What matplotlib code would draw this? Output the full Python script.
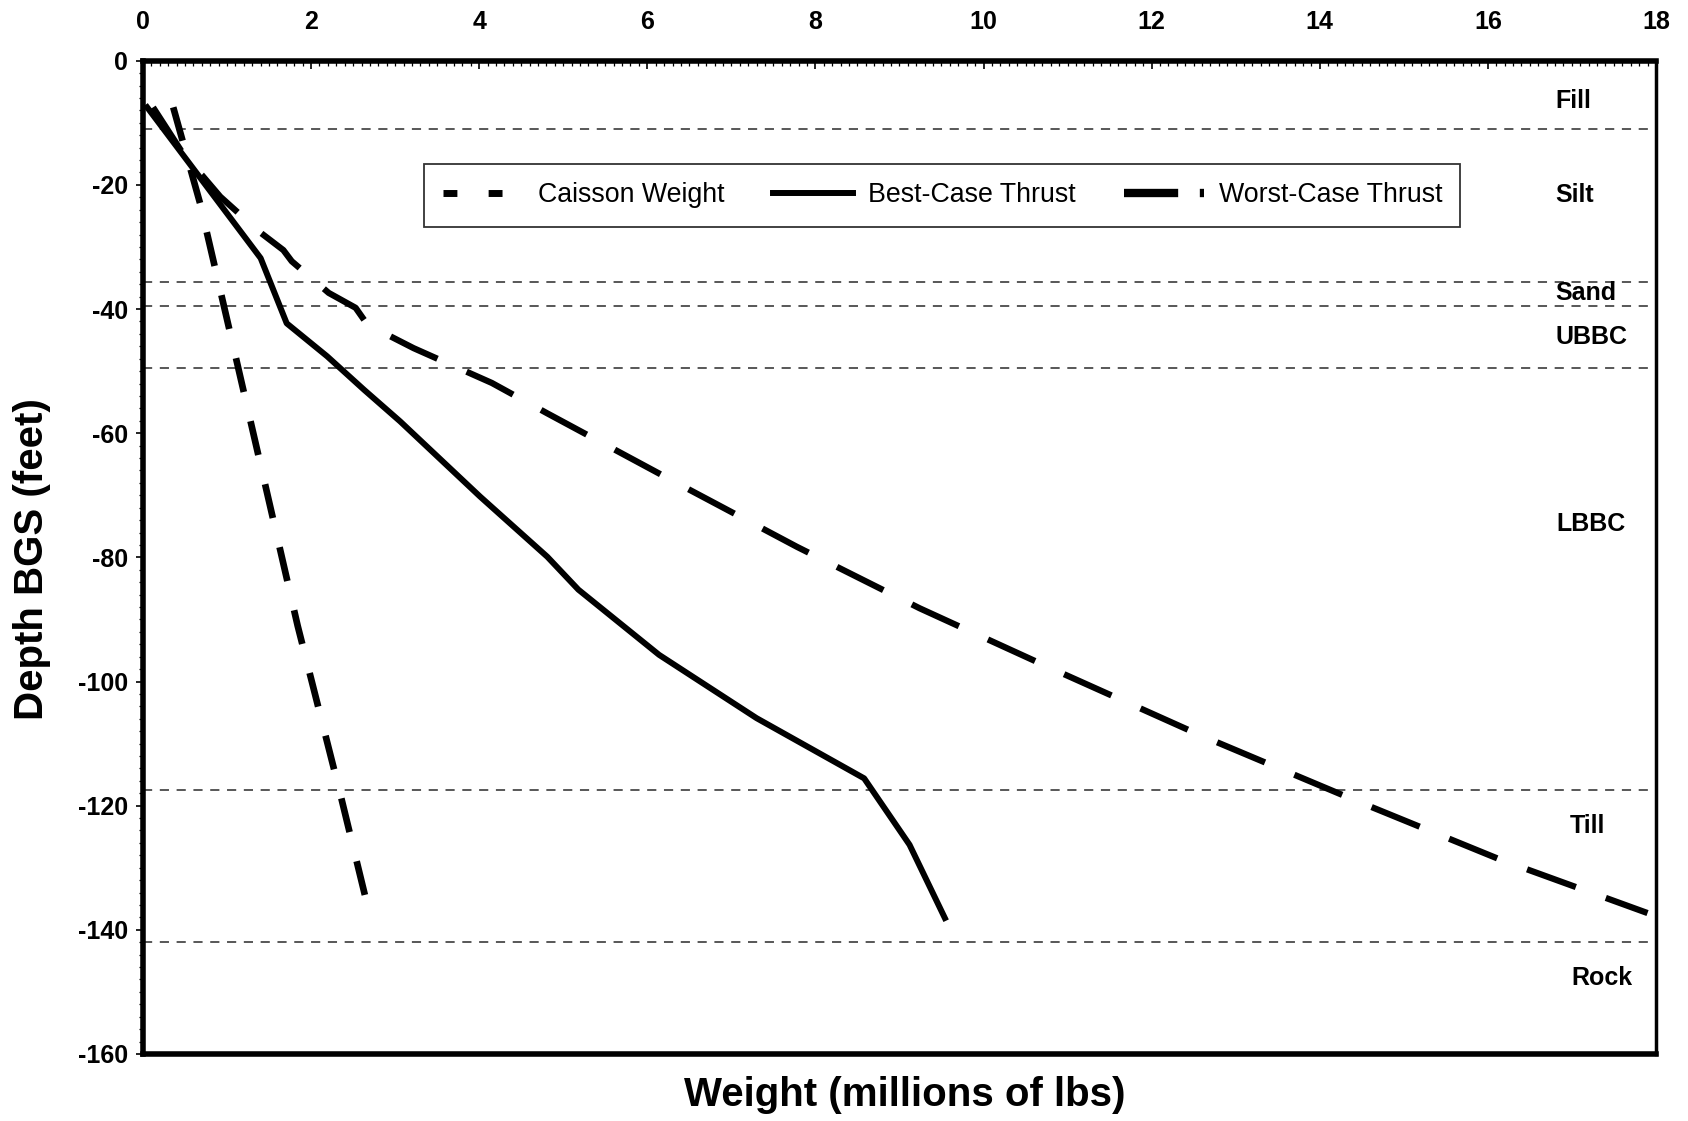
import matplotlib
matplotlib.use("Agg")
import matplotlib.pyplot as plt
from matplotlib.lines import Line2D
from matplotlib.ticker import MultipleLocator

plt.rcParams['font.family'] = ['Liberation Sans', 'DejaVu Sans']

# Caisson weight vs. depth (millions of lbs, feet below ground surface)
caisson_weight = [0.36, 0.68, 1.04, 1.50, 1.84, 2.34, 2.66]
caisson_depth = [-7.5, -23.0, -44.0, -71.0, -91.0, -117.7, -135.5]

# Best-case thrust
best_weight = [0.05, 1.40, 1.71, 2.19, 2.63, 3.06, 4.01, 4.81, 5.18, 6.14, 7.30, 8.58, 9.12, 9.54]
best_depth = [-7.5, -31.8, -42.3, -47.6, -53.0, -58.1, -70.2, -79.9, -85.2, -95.7, -105.9, -115.6, -126.3, -138.1]

# Worst-case thrust
worst_weight = [0.12, 0.55, 0.70, 0.92, 1.38, 1.67, 1.77, 2.21, 2.53, 2.67, 3.22, 4.15, 4.81,
                6.32, 7.78, 9.24, 10.84, 12.57, 14.45, 16.15, 17.90]
worst_depth = [-7.5, -16.5, -18.4, -21.9, -27.5, -30.5, -32.3, -37.4, -39.8, -42.5, -46.3, -51.9,
               -56.8, -67.8, -78.3, -88.2, -98.1, -108.6, -119.3, -128.7, -137.3]

# Soil strata: boundaries and names
layer_boundaries = [-11.0, -35.6, -39.5, -49.5, -117.5, -142.0]
layer_names = ["Fill", "Silt", "Sand", "UBBC", "LBBC", "Till", "Rock"]
layer_label_depth = [-6.5, -21.6, -37.4, -44.5, -74.7, -123.2, -147.7]
layer_label_x = [16.80, 16.80, 16.80, 16.80, 16.82, 16.98, 17.00]

x_ticks = list(range(0, 19, 2))
y_ticks = list(range(0, -161, -20))

fig = plt.figure(figsize=(16.88, 11.21), dpi=100)
ax = fig.add_axes([0.0847, 0.0598, 0.8963, 0.8860])

ax.set_xlim(0, 18)
ax.set_ylim(-160, 0)

# Strata boundary lines
for d in layer_boundaries:
    ax.axhline(d, color="#2a2a2a", lw=1.1, dashes=(6, 5), zorder=1)

for name, x, d in zip(layer_names, layer_label_x, layer_label_depth):
    ax.text(x, d, name, fontsize=18, fontweight="bold", ha="left", va="center", zorder=2)

ax.plot(caisson_weight, caisson_depth, color="black", lw=4.8, dashes=(5.2, 4.5),
        solid_capstyle="butt", dash_capstyle="butt", zorder=3)
ax.plot(best_weight, best_depth, color="black", lw=4.3, solid_joinstyle="round", zorder=3)
ax.plot(worst_weight, worst_depth, color="black", lw=4.5, dashes=(8.3, 5.1),
        dash_capstyle="butt", zorder=3)

# Axes styling: value axis along the top
ax.xaxis.tick_top()
ax.set_xticks(x_ticks)
ax.set_xticklabels([str(v) for v in x_ticks])
ax.xaxis.set_minor_locator(MultipleLocator(0.1))
ax.tick_params(axis="x", which="major", direction="in", length=6, width=1.2,
               pad=19, labelsize=18, top=True, bottom=False)
ax.tick_params(axis="x", which="minor", direction="in", length=3.5, width=0.9,
               top=True, bottom=False)
for lbl in ax.get_xticklabels():
    lbl.set_fontweight("bold")

ax.set_yticks(y_ticks)
ax.set_yticklabels([str(v) for v in y_ticks])
ax.yaxis.set_minor_locator(MultipleLocator(2))
ax.tick_params(axis="y", which="major", direction="out", length=5, width=1.2,
               pad=6, labelsize=18, left=True, right=False)
ax.tick_params(axis="y", which="minor", direction="out", length=3, width=0.9,
               left=True, right=False)
for lbl in ax.get_yticklabels():
    lbl.set_fontweight("bold")

for side in ["left", "top", "bottom"]:
    ax.spines[side].set_linewidth(4.0)
ax.spines["right"].set_linewidth(2.5)

fig.text(0.536, 0.023, "Weight (millions of lbs)", fontsize=29, fontweight="bold",
         ha="center", va="center")
fig.text(0.019, 0.501, "Depth BGS (feet)", fontsize=29, fontweight="bold",
         ha="center", va="center", rotation=90)

handles = [
    Line2D([], [], color="black", lw=5.0, dashes=(2.0, 4.5)),
    Line2D([], [], color="black", lw=4.3),
    Line2D([], [], color="black", lw=6.0, dashes=(6.5, 2.6)),
]
labels = ["Caisson Weight", "Best-Case Thrust", "Worst-Case Thrust"]
leg = ax.legend(handles, labels, loc="upper left", bbox_to_anchor=(0.186, 0.896),
                ncol=3, fontsize=19.3, handlelength=3.0, handletextpad=0.55,
                columnspacing=1.8, borderpad=0.68, borderaxespad=0.0,
                frameon=True, fancybox=False, framealpha=1.0)
leg.get_frame().set_edgecolor("#333333")
leg.get_frame().set_linewidth(1.3)

fig.savefig("out.png", dpi=100, facecolor="white")
